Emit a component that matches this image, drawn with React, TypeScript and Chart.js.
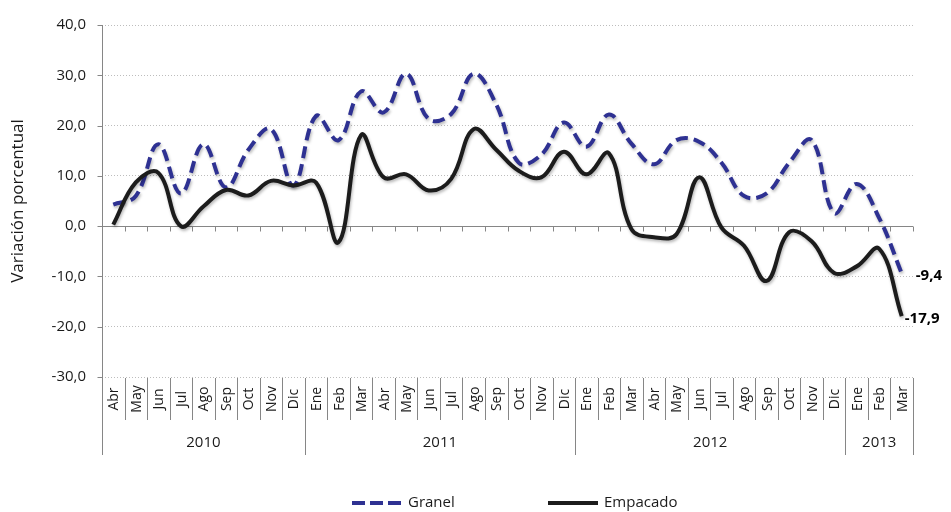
import React, { useEffect, useRef } from 'react';
import { Chart, registerables } from 'chart.js';

Chart.register(...registerables);

const months = [
  'Abr', 'May', 'Jun', 'Jul', 'Ago', 'Sep', 'Oct', 'Nov', 'Dic',
  'Ene', 'Feb', 'Mar', 'Abr', 'May', 'Jun', 'Jul', 'Ago', 'Sep', 'Oct', 'Nov', 'Dic',
  'Ene', 'Feb', 'Mar', 'Abr', 'May', 'Jun', 'Jul', 'Ago', 'Sep', 'Oct', 'Nov', 'Dic',
  'Ene', 'Feb', 'Mar',
];
const yearLabels = ['2010', '2011', '2012', '2013'];
const yearCounts = [9, 12, 12, 3];

const granel = [
  4.3, 6.0, 16.3, 6.5, 16.3, 7.7, 15.2, 19.3, 8.1,
  21.9, 17.1, 26.8, 22.6, 30.3, 21.3, 22.3, 30.3, 24.2, 12.6, 14.2, 20.6,
  15.8, 22.2, 16.4, 12.3, 17.1, 16.8, 12.6, 6.0, 6.5, 12.6, 17.1, 2.6,
  8.4, 1.6, -9.4,
];
const empacado = [
  0.3, 8.7, 10.6, 0.0, 3.9, 7.2, 6.1, 9.0, 8.1,
  8.7, -3.2, 18.1, 9.7, 10.3, 7.1, 9.4, 19.3, 15.2, 11.0, 9.7, 14.8,
  10.3, 14.5, -0.6, -2.2, -1.6, 9.7, -0.3, -3.9, -10.9, -1.2, -3.0, -9.3,
  -8.0, -4.5, -17.9,
];

const yMin = -30;
const yMax = 40;
const yStep = 10;

const BLUE = '#2E3192';
const BLACK = '#1c1c1c';
const AXIS = '#868686';
const FONT = '"Open Sans", "Noto Sans", sans-serif';

const fmt = (v: number) => v.toFixed(1).replace('.', ',');

const decorPlugin = {
  id: 'decor',
  beforeDatasetsDraw(chart: any) {
    const { ctx, chartArea } = chart;
    const y = chart.scales.y;
    const n = months.length;
    const catW = (chartArea.right - chartArea.left) / n;
    const y0 = Math.round(y.getPixelForValue(0)) + 0.5;
    const left = Math.round(chartArea.left) + 0.5;
    ctx.save();
    ctx.strokeStyle = AXIS;
    ctx.lineWidth = 1;
    ctx.setLineDash([]);
    ctx.beginPath();
    ctx.moveTo(chartArea.left, y0);
    ctx.lineTo(chartArea.right, y0);
    ctx.stroke();
    for (let i = 0; i <= n; i++) {
      const px = Math.round(chartArea.left + i * catW) + 0.5;
      ctx.beginPath();
      ctx.moveTo(px, y0);
      ctx.lineTo(px, y0 + 5);
      ctx.stroke();
    }
    ctx.beginPath();
    ctx.moveTo(left, chartArea.top);
    ctx.lineTo(left, chartArea.bottom + 78);
    ctx.stroke();
    for (let v = yMin; v <= yMax; v += yStep) {
      const py = Math.round(y.getPixelForValue(v)) + 0.5;
      ctx.beginPath();
      ctx.moveTo(left - 5, py);
      ctx.lineTo(left, py);
      ctx.stroke();
    }
    ctx.restore();
  },
  beforeDatasetDraw(chart: any) {
    const ctx = chart.ctx;
    ctx.save();
    ctx.shadowColor = 'rgba(0,0,0,0.28)';
    ctx.shadowBlur = 3;
    ctx.shadowOffsetX = 1;
    ctx.shadowOffsetY = 2;
  },
  afterDatasetDraw(chart: any) {
    chart.ctx.restore();
  },
  afterDraw(chart: any) {
    const { ctx, chartArea } = chart;
    const x = chart.scales.x;
    const y = chart.scales.y;
    const n = months.length;
    const catW = (chartArea.right - chartArea.left) / n;
    const bottom = Math.round(chartArea.bottom);
    ctx.save();
    ctx.strokeStyle = AXIS;
    ctx.lineWidth = 1;
    ctx.setLineDash([]);
    let acc = 0;
    const yearBounds = [0];
    yearCounts.forEach((c) => { acc += c; yearBounds.push(acc); });
    for (let i = 0; i <= n; i++) {
      const px = Math.round(chartArea.left + i * catW) + 0.5;
      const isYear = yearBounds.includes(i);
      ctx.beginPath();
      ctx.moveTo(px, bottom + 1);
      ctx.lineTo(px, bottom + (isYear ? 78 : 43));
      ctx.stroke();
    }
    ctx.fillStyle = '#1a1a1a';
    ctx.font = `14px ${FONT}`;
    ctx.textAlign = 'center';
    ctx.textBaseline = 'middle';
    months.forEach((m, i) => {
      const px = x.getPixelForValue(i);
      ctx.save();
      ctx.translate(px + 1, bottom + 22);
      ctx.rotate(-Math.PI / 2);
      ctx.fillText(m, 0, 0);
      ctx.restore();
    });
    ctx.font = `15px ${FONT}`;
    yearLabels.forEach((yl, k) => {
      const a = chartArea.left + yearBounds[k] * catW;
      const b = chartArea.left + yearBounds[k + 1] * catW;
      ctx.fillText(yl, (a + b) / 2, bottom + 66);
    });
    ctx.font = `bold 15px ${FONT}`;
    ctx.textAlign = 'left';
    ctx.fillStyle = '#000';
    const last = n - 1;
    const lx = x.getPixelForValue(last);
    ctx.fillText(fmt(granel[last]), lx + 14, y.getPixelForValue(granel[last]) + 2);
    ctx.fillText(fmt(empacado[last]), lx + 3, y.getPixelForValue(empacado[last]) + 3);
    const ly = 503;
    ctx.lineWidth = 4;
    ctx.strokeStyle = BLUE;
    ctx.setLineDash([13, 5]);
    ctx.beginPath();
    ctx.moveTo(352, ly);
    ctx.lineTo(402, ly);
    ctx.stroke();
    ctx.setLineDash([]);
    ctx.strokeStyle = BLACK;
    ctx.beginPath();
    ctx.moveTo(548, ly);
    ctx.lineTo(598, ly);
    ctx.stroke();
    ctx.font = `15px ${FONT}`;
    ctx.fillStyle = '#1a1a1a';
    ctx.textBaseline = 'middle';
    ctx.fillText('Granel', 408, ly);
    ctx.fillText('Empacado', 604, ly);
    ctx.restore();
  },
};

export default function App() {
  const ref = useRef<HTMLCanvasElement | null>(null);
  useEffect(() => {
    if (!ref.current) return;
    const chart = new Chart(ref.current, {
      type: 'line',
      data: {
        labels: months,
        datasets: [
          {
            label: 'Granel',
            data: granel,
            borderColor: BLUE,
            backgroundColor: BLUE,
            borderWidth: 4,
            borderDash: [12, 6],
            pointRadius: 0,
            tension: 0.4,
            fill: false,
            order: 1,
          },
          {
            label: 'Empacado',
            data: empacado,
            borderColor: BLACK,
            backgroundColor: BLACK,
            borderWidth: 4,
            pointRadius: 0,
            tension: 0.4,
            fill: false,
            order: 0,
          },
        ],
      },
      options: {
        responsive: false,
        animation: false,
        layout: { padding: { top: 15, right: 38, bottom: 135, left: 0 } },
        plugins: {
          legend: { display: false },
          tooltip: { enabled: false },
        },
        scales: {
          x: {
            type: 'category',
            display: false,
            offset: true,
          },
          y: {
            min: yMin,
            max: yMax,
            afterFit: (s: any) => { s.width = 102; },
            ticks: {
              stepSize: yStep,
              padding: 16,
              color: '#1a1a1a',
              font: { family: FONT, size: 15 },
              callback: (v: any) => fmt(Number(v)),
            },
            grid: {
              color: '#bdbdbd',
              lineWidth: 1,
              drawTicks: false,
            },
            border: { display: false, dash: [1, 2] },
            title: {
              display: true,
              text: 'Variación porcentual',
              color: '#1a1a1a',
              font: { family: FONT, size: 17 },
              padding: { top: 8, bottom: 0 },
            },
          },
        },
      },
      plugins: [decorPlugin],
    });
    return () => chart.destroy();
  }, []);
  return (
    <div style={{ position: 'fixed', left: 0, top: 0, width: 951, height: 512, background: '#fff' }}>
      <canvas ref={ref} width={951} height={512} style={{ display: 'block' }} />
    </div>
  );
}
